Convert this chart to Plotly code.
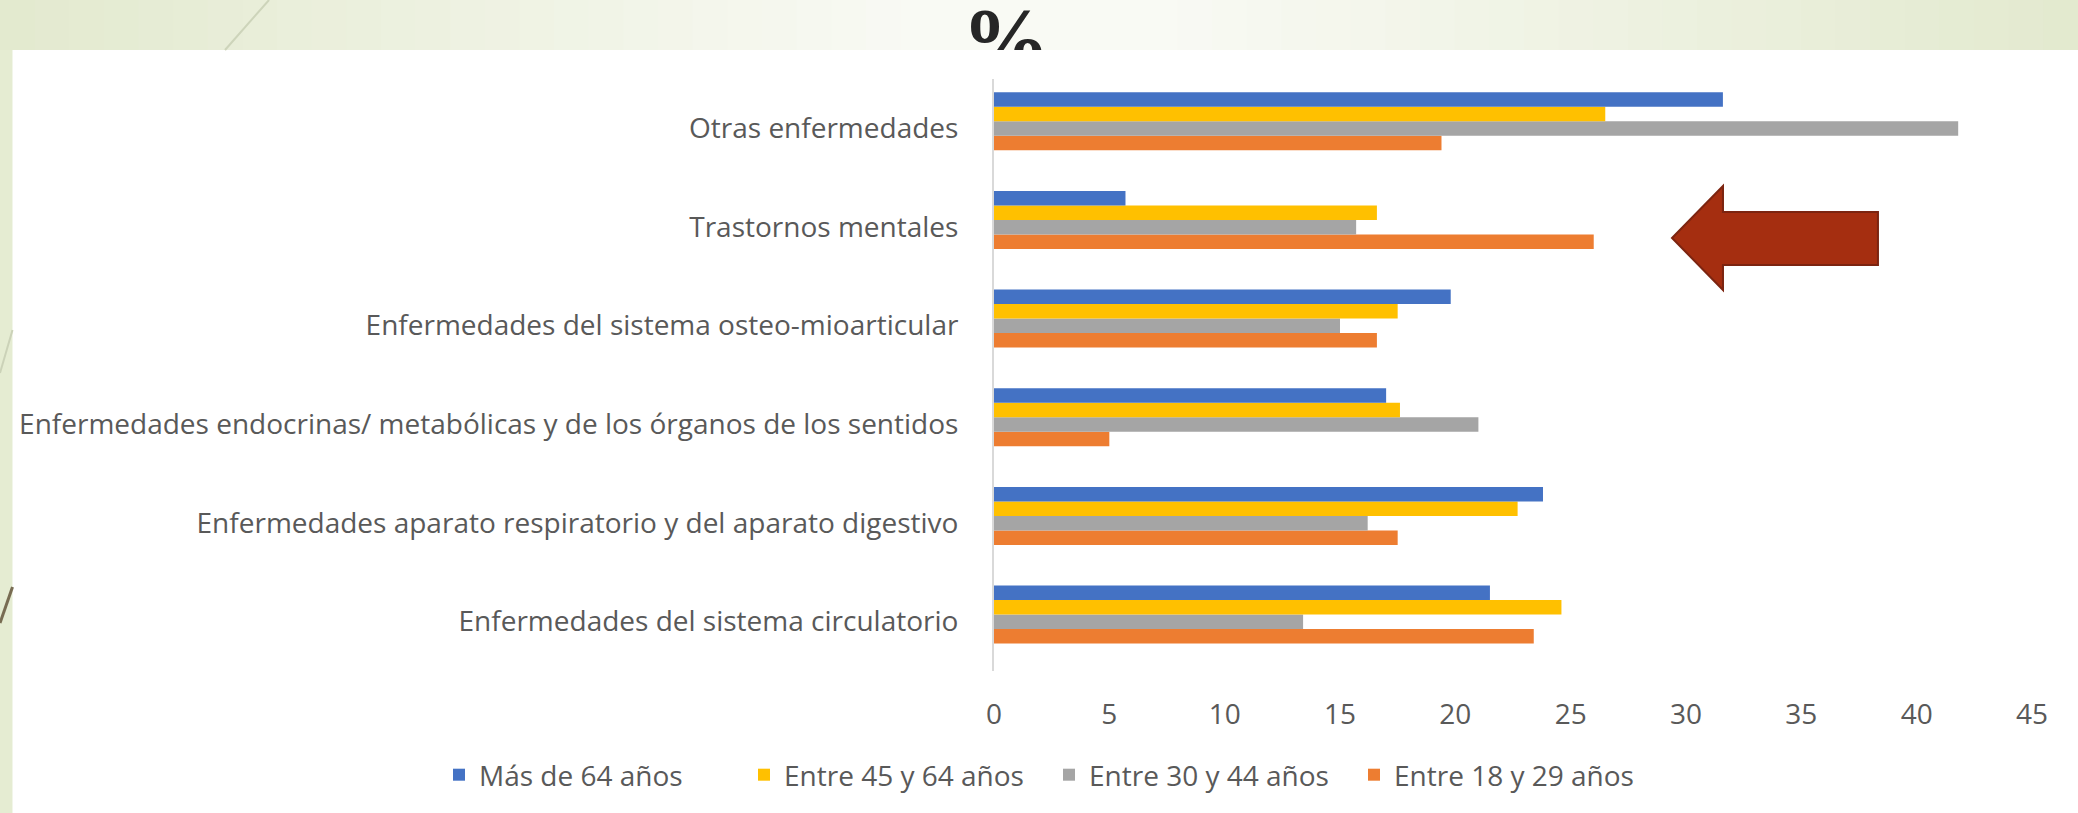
import plotly.graph_objects as go

# Data (bottom-to-top category order, as the y axis draws it)
categories = [
    "Enfermedades del sistema circulatorio",
    "Enfermedades aparato respiratorio y del aparato digestivo",
    "Enfermedades endocrinas/ metabólicas y de los órganos de los sentidos",
    "Enfermedades del sistema osteo-mioarticular",
    "Trastornos mentales",
    "Otras enfermedades",
]
mas_64 = [21.5, 23.8, 17.0, 19.8, 5.7, 31.6]
entre_45_64 = [24.6, 22.7, 17.6, 17.5, 16.6, 26.5]
entre_30_44 = [13.4, 16.2, 21.0, 15.0, 15.7, 41.8]
entre_18_29 = [23.4, 17.5, 5.0, 16.6, 26.0, 19.4]
x_ticks = [0, 5, 10, 15, 20, 25, 30, 35, 40, 45]

W, H = 2078, 813
L, R, T, B = 994, 46, 79, 142
PW, PH = W - L - R, H - T - B


def px(x):
    return (x - L) / PW


def py(y):
    return (H - B - y) / PH


fig = go.Figure()
# orange first so it sits at the bottom of each group
series = [
    ("Entre 18 y 29 años", entre_18_29, "#ED7D31"),
    ("Entre 30 y 44 años", entre_30_44, "#A5A5A5"),
    ("Entre 45 y 64 años", entre_45_64, "#FFC000"),
    ("Más de 64 años", mas_64, "#4472C4"),
]
bar_w = 0.147       # in category units
group_shift = 0.072  # groups sit slightly above the label centre
for i, (name, vals, color) in enumerate(series):
    fig.add_trace(go.Bar(
        y=categories, x=vals, name=name, orientation="h",
        width=bar_w, offset=group_shift - 2 * bar_w + i * bar_w,
        marker=dict(color=color, line=dict(width=0)),
    ))

shapes = []
# gradient top band (slide background)
n = 60
for i in range(n):
    t = (i + 0.5) / n
    k = 1 - abs(t - 0.5) * 2  # 0 at edges, 1 in middle
    k = min(1, k * 1.15)
    c0 = (0xE3, 0xEA, 0xCF)
    c1 = (0xF9, 0xFA, 0xF4)
    c = tuple(int(c0[j] + (c1[j] - c0[j]) * k) for j in range(3))
    shapes.append(dict(
        type="rect", xref="paper", yref="paper", layer="below",
        x0=px(W * i / n), x1=px(W * (i + 1) / n + 1), y0=py(50), y1=py(0),
        fillcolor="rgb(%d,%d,%d)" % c, line=dict(width=0),
    ))
# white chart area
shapes.append(dict(
    type="rect", xref="paper", yref="paper", layer="below",
    x0=px(12.5), x1=px(W + 2), y0=py(H + 2), y1=py(50),
    fillcolor="white", line=dict(width=0),
))
# decorative slide lines
shapes.append(dict(type="line", xref="paper", yref="paper", layer="below",
                   x0=px(269), y0=py(0), x1=px(225), y1=py(50),
                   line=dict(color="#CDD4BA", width=2)))
shapes.append(dict(type="line", xref="paper", yref="paper", layer="below",
                   x0=px(12.5), y0=py(330), x1=px(0), y1=py(373),
                   line=dict(color="#CBD2B8", width=2)))
shapes.append(dict(type="line", xref="paper", yref="paper", layer="below",
                   x0=px(12.5), y0=py(587), x1=px(0), y1=py(623),
                   line=dict(color="#786C52", width=3)))
# red arrow
pts = [(1672, 238), (1723, 186), (1723, 212), (1878, 212),
       (1878, 265), (1723, 265), (1723, 290)]
path = "M " + " L ".join("%.4f,%.4f" % (px(a), py(b)) for a, b in pts) + " Z"
shapes.append(dict(type="path", xref="paper", yref="paper", layer="above",
                   path=path, fillcolor="#A52E10",
                   line=dict(color="#7C2410", width=2)))

annotations = [
    dict(text="<b>%</b>", xref="paper", yref="paper", x=px(1006), y=py(-11),
         xanchor="center", yanchor="top", showarrow=False,
         font=dict(family="Liberation Serif", size=88, color="#262626")),
    # white chart area clips the bottom of the title
    dict(text=" ", xref="paper", yref="paper", x=px(1006), y=py(50),
         xanchor="center", yanchor="top", showarrow=False,
         width=260, height=27, bgcolor="white", borderwidth=0, borderpad=0,
         font=dict(size=10)),
]

fig.update_layout(
    width=W, height=H,
    margin=dict(l=L, r=R, t=T, b=B),
    paper_bgcolor="#E5ECD2",
    plot_bgcolor="rgba(0,0,0,0)",
    barmode="group",
    font=dict(family="Open Sans", size=28, color="#595959"),
    xaxis=dict(
        range=[0, 45], tickvals=x_ticks, showgrid=False, zeroline=False,
        showline=False, ticks="", ticklabelstandoff=24,
        tickfont=dict(size=28, color="#595959"),
    ),
    yaxis=dict(
        showgrid=False, zeroline=False, showline=True, linecolor="#D9D9D9",
        linewidth=2, ticks="", ticklabelstandoff=28, range=[-0.5, 5.5],
        tickfont=dict(size=28, color="#595959"),
    ),
    legend=dict(
        orientation="h", traceorder="reversed",
        x=px(439), y=py(775), xanchor="left", yanchor="middle",
        font=dict(size=28, color="#595959"),
        entrywidth=260, bgcolor="rgba(0,0,0,0)",
    ),
    shapes=shapes,
    annotations=annotations,
)

fig.write_html("out.html", config={"displayModeBar": False},
               post_script="document.body.style.margin='0';")
